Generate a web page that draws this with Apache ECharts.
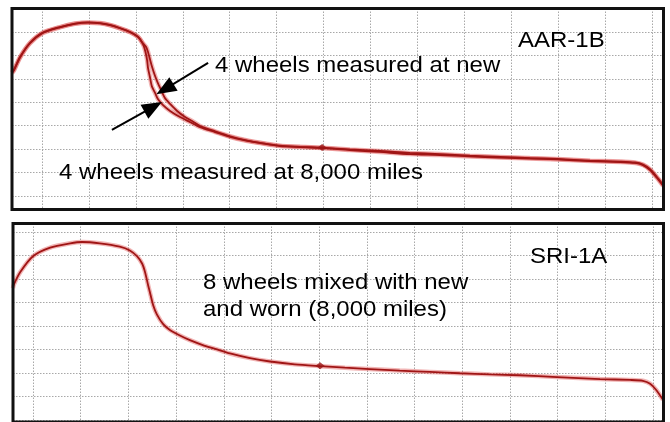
<!DOCTYPE html>
<html>
<head>
<meta charset="utf-8">
<script src="https://cdn.jsdelivr.net/npm/echarts@6/dist/echarts.min.js"></script>
<style>
  html, body { margin: 0; padding: 0; background: #fff; }
  #chart { width: 670px; height: 422px; }
</style>
</head>
<body>
<div id="chart"></div>
<script>
// Wheel profiles, [lateral position, height] in grid divisions.
const aarWornProfile = [
  [-0.64, 5.29], [-0.60, 5.38], [-0.47, 5.93], [-0.26, 6.53], [0.00, 6.96], [0.38, 7.21],
  [0.70, 7.36], [0.98, 7.41], [1.24, 7.38], [1.45, 7.30], [1.66, 7.17], [1.88, 7.00],
  [2.05, 6.79], [2.15, 6.49], [2.20, 6.19], [2.24, 5.80], [2.26, 5.46], [2.30, 5.08],
  [2.34, 4.69], [2.41, 4.40], [2.47, 4.14], [2.58, 3.88], [2.73, 3.63], [2.94, 3.37],
  [3.15, 3.16], [3.37, 2.94], [3.69, 2.73], [4.01, 2.52], [4.33, 2.37], [4.65, 2.26],
  [5.07, 2.13], [5.50, 2.09], [5.97, 2.05], [6.56, 1.96], [7.20, 1.88], [7.84, 1.79],
  [8.48, 1.75], [9.12, 1.69], [9.76, 1.64], [10.40, 1.60], [10.98, 1.56], [11.68, 1.49],
  [12.32, 1.45], [12.64, 1.41], [12.81, 1.32], [12.96, 1.11], [13.09, 0.81], [13.24, 0.43]
];
const aarNewProfile = [
  [-0.64, 5.25], [-0.60, 5.35], [-0.47, 5.90], [-0.26, 6.51], [0.00, 6.94], [0.38, 7.20],
  [0.70, 7.35], [0.98, 7.40], [1.24, 7.37], [1.45, 7.29], [1.66, 7.16], [1.88, 6.99],
  [2.05, 6.78], [2.15, 6.52], [2.22, 6.36], [2.26, 6.15], [2.30, 5.85], [2.34, 5.55],
  [2.41, 5.12], [2.47, 4.82], [2.54, 4.52], [2.62, 4.18], [2.73, 3.93], [2.88, 3.63],
  [3.05, 3.37], [3.20, 3.20], [3.37, 2.99], [3.69, 2.76], [4.01, 2.55], [4.33, 2.39],
  [4.65, 2.27], [5.07, 2.15], [5.50, 2.10], [5.97, 2.06], [6.56, 1.99], [7.20, 1.92],
  [7.84, 1.84], [8.48, 1.79], [9.12, 1.72], [9.76, 1.67], [10.40, 1.62], [10.98, 1.58],
  [11.68, 1.51], [12.32, 1.47], [12.64, 1.43], [12.81, 1.34], [12.96, 1.14], [13.09, 0.85],
  [13.24, 0.47]
];
const sriMixedProfile = [
  [-0.42, 5.45], [-0.40, 5.62], [-0.27, 6.17], [0.00, 6.89], [0.36, 7.28], [0.78, 7.47],
  [1.03, 7.53], [1.40, 7.47], [1.82, 7.32], [2.03, 7.15], [2.18, 6.89], [2.29, 6.55],
  [2.35, 6.17], [2.41, 5.62], [2.45, 5.28], [2.52, 4.68], [2.60, 4.26], [2.73, 3.83],
  [2.87, 3.57], [3.08, 3.32], [3.29, 3.11], [3.56, 2.89], [3.82, 2.72], [4.13, 2.51],
  [4.55, 2.30], [4.97, 2.15], [5.49, 2.02], [6.02, 1.94], [6.54, 1.87], [7.06, 1.81],
  [7.69, 1.74], [8.32, 1.68], [8.95, 1.62], [9.58, 1.57], [10.21, 1.53], [10.99, 1.45],
  [11.89, 1.36], [12.52, 1.32], [12.79, 1.28], [12.94, 1.15], [13.06, 0.89], [13.21, 0.43]
];
// Trace crossing marks
const aarTraceMarks = [[5.97, 2.07]];
const sriTraceMarks = [[6.02, 1.96]];
// Arrow pointers [from, to]
const aarArrows = [
  [[3.54, 5.68], [2.62, 4.56]],
  [[1.49, 2.82], [2.37, 3.80]]
];
const panelNames = ['AAR-1B', 'SRI-1A'];
const aarNotes = ['4 wheels measured at new', '4 wheels measured at 8,000 miles'];
const sriNotes = ['8 wheels mixed with new', 'and worn (8,000 miles)'];

const chart = echarts.init(document.getElementById('chart'), null, { renderer: 'canvas' });

const dotted = { show: true, lineStyle: { color: '#a8a8a8', width: 1, type: [1.5, 1.5] } };
const hidden = { show: false };

function gridAxis(gridIndex, max, withLines) {
  return {
    type: 'value', gridIndex: gridIndex, min: 0, max: max, interval: 1,
    axisLine: hidden, axisTick: hidden, axisLabel: hidden,
    splitLine: withLines ? dotted : hidden
  };
}
function dataAxis(gridIndex, min, max) {
  return {
    type: 'value', gridIndex: gridIndex, min: min, max: max,
    axisLine: hidden, axisTick: hidden, axisLabel: hidden, splitLine: hidden
  };
}

function profileSeries(idx, data) {
  return [
    {
      type: 'line', xAxisIndex: idx, yAxisIndex: idx, data: data, smooth: 0.25,
      showSymbol: false, silent: true, z: 2,
      lineStyle: { color: 'rgba(220, 70, 70, 0.4)', width: 4.5 }
    },
    {
      type: 'line', xAxisIndex: idx, yAxisIndex: idx, data: data, smooth: 0.25,
      showSymbol: false, silent: true, z: 3,
      lineStyle: { color: '#a01515', width: 1.8 }
    }
  ];
}

const font = '22px "Liberation Sans", Arial, sans-serif';
function note(text, x, y) {
  return {
    type: 'text', x: x, y: y, scaleX: 1.09, z: 20, silent: true,
    style: {
      text: text, font: font, fill: '#000',
      align: 'left', verticalAlign: 'middle',
      textAlign: 'left', textVerticalAlign: 'middle'
    }
  };
}

const option = {
  animation: false,
  backgroundColor: '#fff',
  grid: [
    // AAR-1B panel: vertical rulings, horizontal rulings, profile area
    { left: 42, top: 8.5, width: 610, height: 201 },
    { left: 12, top: 32, width: 651.5, height: 164 },
    { left: 12, top: 8.5, width: 651.5, height: 201, show: true, z: 10,
      borderColor: '#111', borderWidth: 3, backgroundColor: 'transparent' },
    // SRI-1A panel
    { left: 33, top: 223.5, width: 620, height: 210 },
    { left: 13, top: 232, width: 650.5, height: 188 },
    { left: 13, top: 223.5, width: 650.5, height: 210, show: true, z: 10,
      borderColor: '#111', borderWidth: 3, backgroundColor: 'transparent' }
  ],
  xAxis: [
    gridAxis(0, 13, true),
    gridAxis(1, 13, false),
    dataAxis(2, -0.6394, 13.246),
    gridAxis(3, 13, true),
    gridAxis(4, 13, false),
    dataAxis(5, -0.4194, 13.221)
  ],
  yAxis: [
    gridAxis(0, 7, false),
    gridAxis(1, 7, true),
    dataAxis(2, -0.576, 8.003),
    gridAxis(3, 8, false),
    gridAxis(4, 8, true),
    dataAxis(5, -0.574, 8.362)
  ],
  series: [
    ...profileSeries(2, aarWornProfile),
    ...profileSeries(2, aarNewProfile),
    ...profileSeries(5, sriMixedProfile),
    {
      type: 'scatter', xAxisIndex: 2, yAxisIndex: 2, data: aarTraceMarks, silent: true, z: 4,
      symbol: 'diamond', symbolSize: [9, 7], itemStyle: { color: '#9a1515' }
    },
    {
      type: 'scatter', xAxisIndex: 5, yAxisIndex: 5, data: sriTraceMarks, silent: true, z: 4,
      symbol: 'diamond', symbolSize: [9, 7], itemStyle: { color: '#9a1515' }
    },
    {
      type: 'line', xAxisIndex: 2, yAxisIndex: 2, data: [], silent: true, z: 15,
      markLine: {
        silent: true, animation: false,
        symbol: ['none', 'triangle'], symbolSize: [16, 20],
        lineStyle: { color: '#000', width: 2, type: 'solid' },
        label: { show: false },
        emphasis: { disabled: true },
        data: aarArrows.map(a => [{ coord: a[0] }, { coord: a[1] }])
      }
    }
  ],
  graphic: [
    note(panelNames[0], 518, 41),
    note(aarNotes[0], 215, 65.5),
    note(aarNotes[1], 59, 173),
    note(panelNames[1], 530, 256.5),
    note(sriNotes[0], 203, 282.5),
    note(sriNotes[1], 203, 310)
  ]
};

chart.setOption(option);
</script>
</body>
</html>
